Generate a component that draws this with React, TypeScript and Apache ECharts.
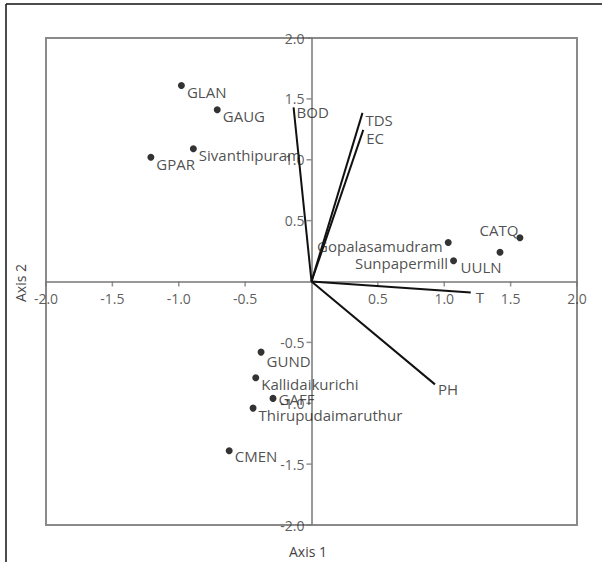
import React, { useEffect, useRef } from "react";
import * as echarts from "echarts";

const pointNames = ["GLAN", "GAUG", "Sivanthipuram", "GPAR", "Gopalasamudram", "Sunpapermill", "UULN", "CATQ", "GUND", "Kallidaikurichi", "GAFF", "Thirupudaimaruthur", "CMEN"];
const pointX = [-0.98, -0.71, -0.89, -1.21, 1.03, 1.07, 1.42, 1.57, -0.38, -0.42, -0.29, -0.44, -0.62];
const pointY = [1.61, 1.41, 1.09, 1.02, 0.32, 0.17, 0.24, 0.36, -0.58, -0.79, -0.96, -1.04, -1.39];

const vectorNames = ["BOD", "TDS", "EC", "T", "PH"];
const vectorX = [-0.135, 0.384, 0.39, 1.2, 0.93];
const vectorY = [1.43, 1.385, 1.245, -0.09, -0.845];

const axisTicks = [-2.0, -1.5, -1.0, -0.5, 0.5, 1.0, 1.5, 2.0];

// label placement: [position, dx, dy]
const pointLabelPos: [string, number, number][] = [
  ["right", 0, 7],
  ["right", 0, 6],
  ["right", 0, 6],
  ["right", 0, 7],
  ["left", 0, 3],
  ["left", 0, 2],
  ["bottom", -19, 2],
  ["left", 4, -8],
  ["right", 0, 9],
  ["right", 0, 6],
  ["right", 0, 1],
  ["right", 0, 7],
  ["right", 0, 5],
];
const vectorLabelPos: [string, number, number][] = [
  ["right", 0, 5],
  ["right", 0, 7],
  ["right", 0, 8],
  ["right", 2, 5],
  ["right", 0, 5],
];

const FONT = "'Open Sans', 'Noto Sans', sans-serif";
const AXIS_GRAY = "#777";

export default function App() {
  const ref = useRef<HTMLDivElement>(null);
  useEffect(() => {
    if (!ref.current) return;
    const chart = echarts.init(ref.current, undefined, { renderer: "svg" });
    const vectorSeries = vectorNames.map((n, i) => ({
      type: "line",
      name: n,
      data: [
        [0, 0],
        [vectorX[i], vectorY[i]],
      ],
      symbol: "none",
      silent: true,
      lineStyle: { color: "#111", width: 2 },
      z: 3,
    }));
    const tickLabelStyle = {
      show: true,
      formatter: (p: any) => p.data.text,
      color: "#333",
      fontSize: 14,
      fontFamily: FONT,
    };
    const option: any = {
      animation: false,
      backgroundColor: "#fff",
      grid: {
        left: 46,
        right: 25,
        top: 38,
        bottom: 37,
        show: true,
        borderColor: "#8a8a8a",
        borderWidth: 2,
        backgroundColor: "transparent",
      },
      xAxis: {
        type: "value",
        min: -2,
        max: 2,
        interval: 0.5,
        axisLine: { onZero: true, lineStyle: { color: AXIS_GRAY, width: 1.5 } },
        axisTick: { show: false },
        axisLabel: { show: false },
        splitLine: { show: false },
      },
      yAxis: {
        type: "value",
        min: -2,
        max: 2,
        interval: 0.5,
        axisLine: { onZero: true, lineStyle: { color: AXIS_GRAY, width: 1.5 } },
        axisTick: { show: false },
        axisLabel: { show: false },
        splitLine: { show: false },
      },
      series: [
        {
          type: "scatter",
          name: "xTicks",
          symbol: "rect",
          symbolSize: [1.5, 5],
          symbolOffset: [0, 2.5],
          itemStyle: { color: AXIS_GRAY },
          silent: true,
          data: axisTicks.map((v) => ({ value: [v, 0], text: v.toFixed(1) })),
          label: { ...tickLabelStyle, position: "bottom", distance: 5 },
          z: 2,
        },
        {
          type: "scatter",
          name: "yTicks",
          symbol: "rect",
          symbolSize: [5, 1.5],
          symbolOffset: [-2.5, 0],
          itemStyle: { color: AXIS_GRAY },
          silent: true,
          data: axisTicks.map((v) => ({ value: [0, v], text: v.toFixed(1) })),
          label: { ...tickLabelStyle, position: "left", distance: 2 },
          z: 2,
        },
        ...vectorSeries,
        {
          type: "scatter",
          name: "vectorLabels",
          symbolSize: 0,
          silent: true,
          data: vectorNames.map((n, i) => ({
            name: n,
            value: [vectorX[i], vectorY[i]],
            label: {
              show: true,
              position: vectorLabelPos[i][0],
              offset: [vectorLabelPos[i][1], vectorLabelPos[i][2]],
              distance: 3,
            },
          })),
          label: { formatter: "{b}", color: "#222", fontSize: 15, fontFamily: FONT },
          z: 4,
        },
        {
          type: "scatter",
          name: "points",
          symbol: "circle",
          symbolSize: 7,
          itemStyle: { color: "#000" },
          silent: true,
          data: pointNames.map((n, i) => ({
            name: n,
            value: [pointX[i], pointY[i]],
            label: {
              show: true,
              position: pointLabelPos[i][0],
              offset: [pointLabelPos[i][1], pointLabelPos[i][2]],
              distance: 2,
            },
          })),
          label: { formatter: "{b}", color: "#222", fontSize: 15, fontFamily: FONT },
          z: 5,
        },
      ],
      graphic: [
        { type: "line", shape: { x1: 6, y1: 4, x2: 602, y2: 4 }, style: { stroke: "#111", lineWidth: 1.5 } },
        { type: "line", shape: { x1: 6, y1: 4, x2: 6, y2: 562 }, style: { stroke: "#111", lineWidth: 1.5 } },
        {
          type: "text",
          x: 308,
          y: 551,
          style: { text: "Axis 1", fill: "#444", font: `14px ${FONT}`, align: "center", verticalAlign: "middle" },
        },
        {
          type: "text",
          x: 20,
          y: 283,
          rotation: Math.PI / 2,
          style: { text: "Axis 2", fill: "#444", font: `14px ${FONT}`, align: "center", verticalAlign: "middle" },
        },
      ],
    };
    chart.setOption(option);
    return () => chart.dispose();
  }, []);
  return <div ref={ref} style={{ position: "fixed", left: 0, top: 0, width: 602, height: 562 }} />;
}
